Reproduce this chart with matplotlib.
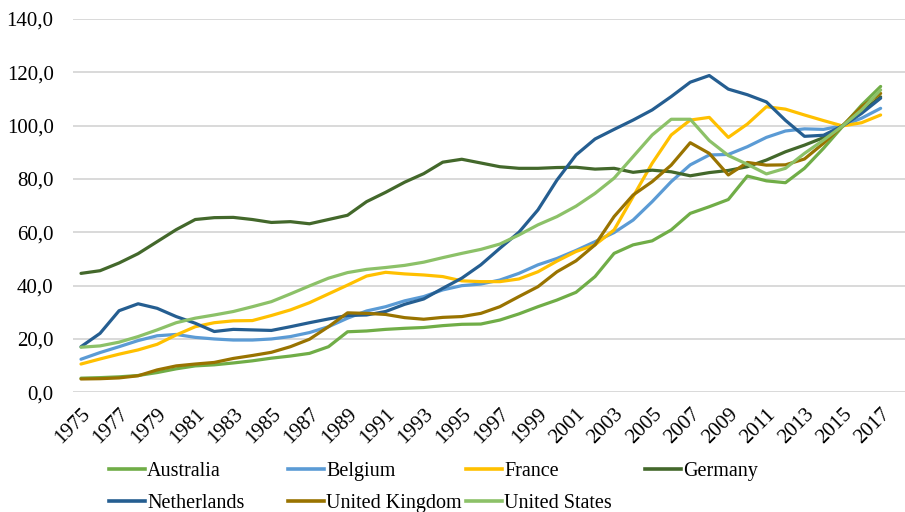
import matplotlib
matplotlib.use("Agg")
import matplotlib.pyplot as plt
from matplotlib.lines import Line2D

plt.rcParams['font.family'] = ['Liberation Serif', 'DejaVu Serif']

years = list(range(1975, 2018))

australia = [5.3, 5.5, 5.8, 6.3, 7.4, 8.8, 9.9, 10.3, 11.0, 11.8,
             12.8, 13.6, 14.6, 17.1, 22.7, 23.0, 23.6, 24.0, 24.3, 25.0,
             25.5, 25.6, 27.1, 29.4, 32.1, 34.6, 37.5, 43.4, 52.1, 55.3,
             56.8, 60.9, 67.1, 69.6, 72.3, 81.1, 79.3, 78.6, 84.0, 91.5,
             99.7, 107.7, 114.7]
belgium = [12.4, 14.9, 17.1, 19.4, 21.2, 21.7, 20.6, 20.0, 19.6, 19.6,
           20.0, 20.9, 22.4, 24.6, 27.8, 30.5, 32.1, 34.3, 35.9, 38.4,
           40.0, 40.6, 42.1, 44.6, 47.8, 50.2, 53.2, 56.5, 59.9, 64.6,
           71.5, 79.0, 85.3, 89.0, 89.2, 92.1, 95.6, 98.0, 98.8, 98.6,
           100.0, 102.8, 106.5]
france = [10.6, 12.5, 14.3, 15.9, 18.0, 21.5, 24.6, 26.1, 26.8, 26.9,
          28.8, 30.9, 33.6, 36.9, 40.2, 43.6, 45.0, 44.4, 44.0, 43.4,
          41.8, 41.5, 41.5, 42.5, 45.2, 49.2, 52.8, 55.3, 60.9, 73.4,
          85.9, 96.5, 102.1, 103.1, 95.6, 100.6, 107.1, 106.2, 104.0, 101.9,
          99.9, 101.1, 104.0]
germany = [44.6, 45.6, 48.5, 52.0, 56.5, 61.0, 64.8, 65.5, 65.6, 64.8,
           63.7, 64.0, 63.2, 64.8, 66.4, 71.5, 75.0, 78.8, 82.0, 86.3,
           87.4, 86.0, 84.6, 84.0, 84.0, 84.3, 84.4, 83.7, 84.0, 82.5,
           83.3, 82.7, 81.2, 82.4, 83.2, 84.6, 87.1, 90.2, 92.7, 95.5,
           100.0, 105.2, 110.8]
netherlands = [17.1, 22.1, 30.6, 33.2, 31.5, 28.4, 25.9, 22.8, 23.6, 23.4,
               23.2, 24.6, 26.1, 27.5, 28.8, 29.0, 30.3, 33.0, 35.0, 39.0,
               42.8, 47.8, 54.0, 60.0, 68.4, 79.6, 89.0, 95.0, 98.6, 102.1,
               105.9, 110.9, 116.3, 118.8, 113.7, 111.6, 108.9, 102.0, 96.0, 96.4,
               99.9, 104.6, 110.3]
united_kingdom = [5.0, 5.1, 5.4, 6.2, 8.4, 9.9, 10.6, 11.2, 12.7, 13.8,
                  15.0, 17.1, 19.9, 24.6, 29.8, 29.6, 29.2, 28.0, 27.4, 28.1,
                  28.4, 29.6, 32.1, 35.9, 39.6, 45.2, 49.3, 55.3, 65.9, 74.0,
                  79.0, 85.2, 93.6, 89.6, 81.5, 86.2, 85.2, 85.3, 87.5, 93.4,
                  100.0, 107.1, 112.1]
united_states = [16.9, 17.4, 18.8, 20.9, 23.4, 26.1, 27.8, 29.0, 30.3, 32.1,
                 34.0, 36.9, 39.9, 42.8, 44.9, 46.1, 46.8, 47.6, 48.8, 50.5,
                 52.1, 53.6, 55.6, 59.0, 62.8, 65.9, 69.8, 74.6, 80.3, 88.4,
                 96.5, 102.4, 102.4, 94.4, 88.8, 85.5, 81.9, 84.0, 89.6, 94.6,
                 99.9, 105.9, 113.4]

series_names = ["Australia", "Belgium", "France", "Germany",
                "Netherlands", "United Kingdom", "United States"]
series_values = [australia, belgium, france, germany,
                 netherlands, united_kingdom, united_states]
series_colors = ["#70AD47", "#5B9BD5", "#FFC000", "#43682B",
                 "#255E91", "#997300", "#8CC168"]

y_ticks = [0, 20, 40, 60, 80, 100, 120, 140]
y_tick_labels = ["0,0", "20,0", "40,0", "60,0", "80,0", "100,0", "120,0", "140,0"]

FS = 15
LFS = 14.5
W, H = 905, 512
fig = plt.figure(figsize=(W / 100, H / 100), dpi=100)
left_px, right_px, top_px, bottom_px = 73, 905, 19, 392.3
ax = fig.add_axes([left_px / W, 1 - bottom_px / H,
                   (right_px - left_px) / W, (bottom_px - top_px) / H])

x = list(range(len(years)))
for name, vals, col in zip(series_names, series_values, series_colors):
    ax.plot(x, vals, color=col, lw=2.3, solid_joinstyle='round',
            solid_capstyle='round', label=name, zorder=3)

ax.set_ylim(0, 140)
ax.set_xlim(-0.42, 43.28)
ax.set_yticks(y_ticks)
ax.set_yticklabels(y_tick_labels, fontsize=FS)
ax.grid(axis='y', color='#D9D9D9', lw=1.4, zorder=0)
ax.tick_params(axis='y', length=0, pad=14)
for s in ax.spines.values():
    s.set_visible(False)

tick_idx = x[::2]
ax.set_xticks(tick_idx)
ax.set_xticklabels([str(years[i]) for i in tick_idx], rotation=45,
                   ha='right', va='top', rotation_mode='anchor', fontsize=FS)
ax.tick_params(axis='x', length=0, pad=9)

# legend: 4 columns, fixed positions like the original
col_x = [109, 288, 466, 645]
handles = [Line2D([], [], color=c, lw=2.6) for c in series_colors]
for ci in range(4):
    idxs = [i for i in (ci, ci + 4) if i < len(series_names)]
    fig.legend([handles[i] for i in idxs], [series_names[i] for i in idxs],
               loc='upper left', bbox_to_anchor=(col_x[ci] / W, 1 - 461.5 / H),
               frameon=False, fontsize=LFS, handlelength=1.8,
               handletextpad=0.1, labelspacing=0.65, borderpad=0,
               borderaxespad=0)

fig.savefig("out.png", dpi=100)
